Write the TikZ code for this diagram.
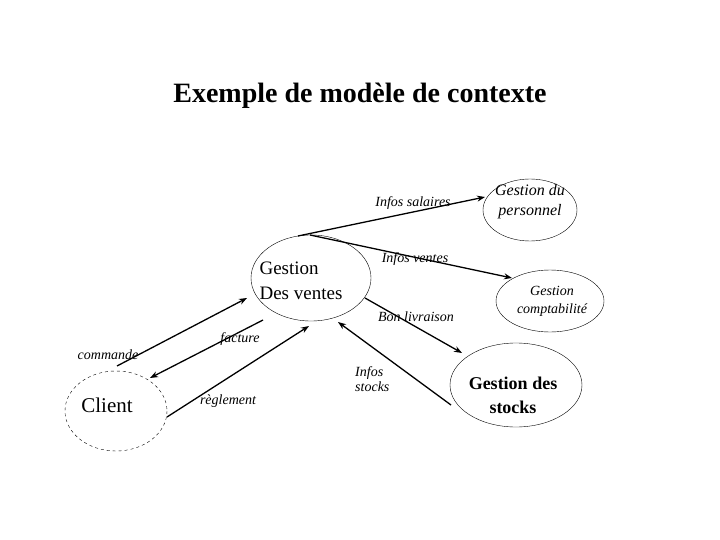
\documentclass[tikz,border=0pt]{standalone}
\usepackage{fontspec}
\setmainfont{Liberation Serif}
\begin{document}
\begin{tikzpicture}[x=1pt,y=-1pt,
  proc/.style={draw,ellipse,inner sep=0pt},
  flow/.style={line width=1.3pt,-{Stealth[length=8pt,width=6pt]}},
  lab/.style={font=\itshape\fontsize{14}{15}\selectfont,inner sep=0pt,align=left}]
\useasboundingbox (0,0) rectangle (720,540);
\usetikzlibrary{arrows.meta}
\node[font=\bfseries\fontsize{28}{30}\selectfont] (title) at (360,96) {Exemple de modèle de contexte};
\draw (311,278) ellipse [x radius=60,y radius=43];
\node[align=left,font=\fontsize{19}{25}\selectfont,inner sep=0pt] (gv) at (301,281) {Gestion\\Des ventes};
\draw[dashed] (116,411) ellipse [x radius=51,y radius=40];
\node[font=\fontsize{21}{24}\selectfont,inner sep=0pt] (cl) at (107,405) {Client};
\draw (530,210) ellipse [x radius=47,y radius=31];
\node[align=center,font=\itshape\fontsize{16}{20}\selectfont,inner sep=0pt] (gp) at (530,202) {Gestion du\\personnel};
\draw (550,301) ellipse [x radius=54,y radius=31];
\node[align=center,font=\itshape\fontsize{14}{18}\selectfont,inner sep=0pt] (gc) at (552,301) {Gestion\\comptabilité};
\draw (516,385) ellipse [x radius=66,y radius=42];
\node[align=center,font=\bfseries\fontsize{18}{24}\selectfont,inner sep=0pt] (gs) at (513,395) {Gestion des\\stocks};
\coordinate (a1) at (298,236); \coordinate (a2) at (485,197);
\coordinate (b1) at (310,235); \coordinate (b2) at (512,278);
\coordinate (c1) at (365,298); \coordinate (c2) at (462,353);
\coordinate (d1) at (451,405); \coordinate (d2) at (338,322);
\coordinate (e1) at (117,366); \coordinate (e2) at (247,298);
\coordinate (f1) at (263,320); \coordinate (f2) at (150,378);
\coordinate (g1) at (167,417); \coordinate (g2) at (309,326);
\draw[flow] (a1) -- (a2);
\draw[flow] (b1) -- (b2);
\draw[flow] (c1) -- (c2);
\draw[flow] (d1) -- (d2);
\draw[flow] (e1) -- (e2);
\draw[flow] (f1) -- (f2);
\draw[flow] (g1) -- (g2);
\node[lab] (l1) at (413,203) {Infos salaires};
\node[lab] (l2) at (415,259) {Infos ventes};
\node[lab] (l3) at (416,317) {Bon livraison};
\node[lab,anchor=west] (l4) at (355,379) {Infos\\stocks};
\node[lab] (l5) at (108,355) {commande};
\node[lab] (l6) at (240,339) {facture};
\node[lab] (l7) at (228,401) {règlement};
\end{tikzpicture}
\end{document}
